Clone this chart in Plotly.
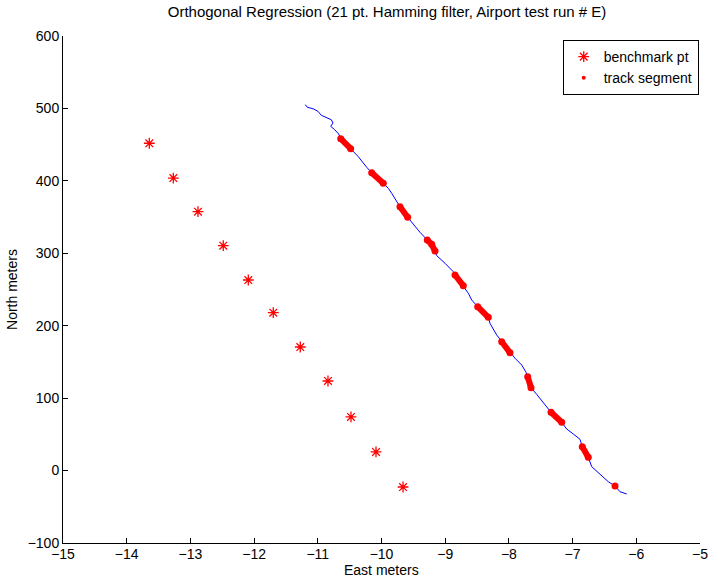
import plotly.graph_objects as go

# Surveyed benchmark points (east, north) in meters
bench_east = [-13.645, -13.268, -12.881, -12.484, -12.091, -11.699,
              -11.275, -10.840, -10.479, -10.086, -9.662]
bench_north = [451.9, 403.9, 357.4, 310.5, 263.1, 218.0,
               170.6, 123.7, 74.0, 25.7, -22.7]

# Filtered vehicle track (21 pt. Hamming window)
track_east = [-11.196, -11.165, -11.075, -10.997, -10.945, -10.867, -10.788,
              -10.761, -10.797, -10.735, -10.672, -10.640, -10.484, -10.369,
              -10.232, -10.154, -9.972, -9.893, -9.840, -9.761, -9.710,
              -9.589, -9.474, -9.396, -9.281, -9.212, -9.160, -9.133, -9.003,
              -8.873, -8.846, -8.716, -8.637, -8.584, -8.490, -8.323, -8.297,
              -8.192, -8.113, -7.983, -7.904, -7.799, -7.736, -7.705, -7.653,
              -7.564, -7.433, -7.339, -7.171, -7.093, -6.989, -6.884, -6.848,
              -6.754, -6.700, -6.597, -6.440, -6.334, -6.256, -6.151]
track_north = [505.2, 501.6, 499.6, 496.0, 490.5, 487.8, 484.4,
               479.9, 475.3, 470.6, 464.7, 458.2, 444.4, 433.9,
               418.7, 411.3, 396.6, 389.7, 382.8, 371.2, 364.3,
               349.7, 336.7, 329.0, 318.3, 312.4, 303.2, 296.7, 286.2,
               274.6, 270.0, 255.3, 244.8, 235.5, 226.3, 211.6, 203.3,
               187.2, 177.9, 162.7, 155.0, 145.8, 136.5, 129.6, 114.4,
               105.3, 90.5, 80.5, 66.7, 57.4, 50.5, 43.2, 33.0,
               18.3, 5.4, -2.9, -15.4, -21.3, -29.2, -32.3]

# Track segments matched to each benchmark (north range covered)
seg_north_hi = [458.2, 411.3, 364.3, 318.3, 270.0, 226.3, 177.9, 129.6, 80.5, 33.0, -21.3]
seg_north_lo = [444.4, 396.6, 349.7, 303.2, 255.3, 211.6, 162.7, 114.4, 66.7, 18.3, -21.3]

x_ticks = [-15, -14, -13, -12, -11, -10, -9, -8, -7, -6, -5]
y_ticks = [-100, 0, 100, 200, 300, 400, 500, 600]

# Collect the track points inside each segment window, separated by gaps
seg_x, seg_y = [], []
for hi, lo in zip(seg_north_hi, seg_north_lo):
    for e, n in zip(track_east, track_north):
        if lo - 1e-9 <= n <= hi + 1e-9:
            seg_x.append(e)
            seg_y.append(n)
    seg_x.append(None)
    seg_y.append(None)

FONT = "Liberation Sans, Arial, Helvetica, sans-serif"

fig = go.Figure()

fig.add_trace(go.Scatter(
    x=bench_east, y=bench_north, mode="markers", name="benchmark pt",
    marker=dict(symbol="asterisk-open", size=9, color="red",
                line=dict(color="red", width=1.3)),
))

fig.add_trace(go.Scatter(
    x=track_east, y=track_north, mode="lines", showlegend=False,
    line=dict(color="#0000ff", width=1),
))

fig.add_trace(go.Scatter(
    x=seg_x, y=seg_y, mode="lines+markers", showlegend=False,
    line=dict(color="red", width=6),
    marker=dict(symbol="circle", size=7, color="red"),
))

# legend entry for the segment dots
fig.add_trace(go.Scatter(
    x=[None], y=[None], mode="markers", name="track segment",
    marker=dict(symbol="circle", size=4, color="red"),
))

axis_common = dict(
    showline=True, linecolor="black", linewidth=1,
    ticks="inside", ticklen=5, tickcolor="black", tickwidth=1,
    showgrid=False, zeroline=False, mirror=False, automargin=False,
    tickfont=dict(family=FONT, size=14, color="black"),
)

fig.update_layout(
    width=708, height=577,
    paper_bgcolor="white", plot_bgcolor="white",
    margin=dict(l=63, r=8, t=36, b=34),
    title=dict(
        text="Orthogonal Regression (21 pt. Hamming filter, Airport test run # E)",
        font=dict(family=FONT, size=15, color="black"),
        x=387 / 708, xanchor="center",
        y=1 - 12 / 577, yanchor="middle",
    ),
    xaxis=dict(range=[-15, -5], tickvals=x_ticks, ticklabeloverflow="allow",
               ticklabelstandoff=-2, **axis_common),
    yaxis=dict(range=[-100, 600], tickvals=y_ticks,
               title=dict(text="North meters", standoff=6,
                          font=dict(family=FONT, size=14, color="black")),
               **axis_common),
    legend=dict(
        x=0.998, xanchor="right", y=0.992, yanchor="top",
        bgcolor="white", bordercolor="black", borderwidth=1,
        font=dict(family=FONT, size=14, color="black"),
        tracegroupgap=0, itemwidth=30,
    ),
    showlegend=True,
    annotations=[dict(
        text="East meters", xref="paper", yref="paper",
        x=0.5, y=-27 / 507, xanchor="center", yanchor="middle",
        showarrow=False, font=dict(family=FONT, size=14, color="black"),
    )],
)

fig.write_html("out.html")
